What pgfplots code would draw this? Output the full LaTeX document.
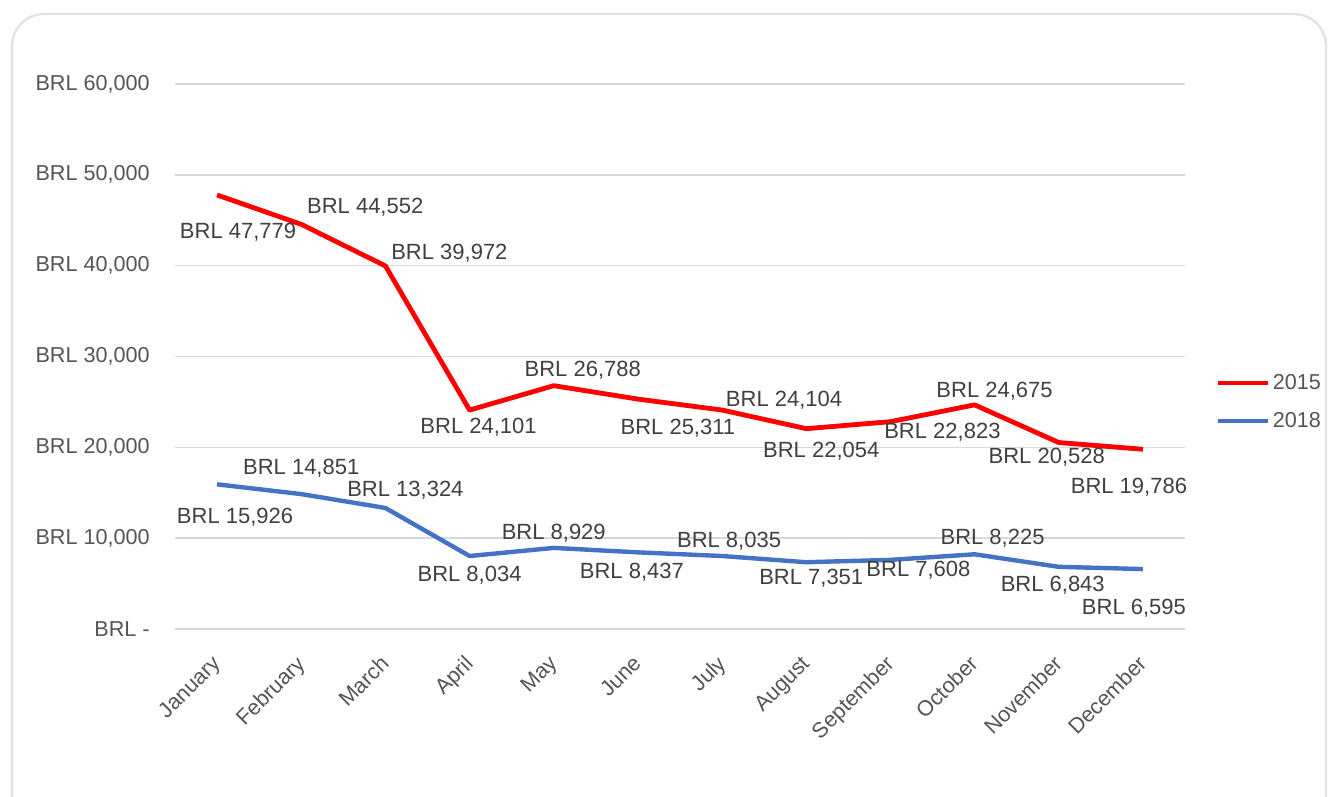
\documentclass[border=0pt]{standalone}
\usepackage{fontspec}
\setmainfont{Liberation Sans}
\usepackage{pgfplots}
\usepackage{pgfplotstable}
\pgfplotsset{compat=1.18}
\definecolor{cred}{HTML}{FF0000}
\definecolor{cblue}{HTML}{4472C4}
\definecolor{ctick}{HTML}{555555}
\definecolor{clab}{HTML}{404040}
\definecolor{cgrid}{HTML}{D9D9D9}
\definecolor{cframe}{HTML}{E3E3E3}

\pgfplotstableread{
x y dx ys
0 47779 21 -37
1 44552 64 17
2 39972 64 13
3 24101 9 -17
4 26788 29 15
5 25311 40 -29
6 24104 62 10
7 22054 15 -23
8 22823 52 -11
9 24675 20 14
10 20528 -12 -15
11 19786 -14 -38
}\dataA
\pgfplotstableread{
x y dx ys
0 15926 18 -33
1 14851 0 26
2 13324 20 18
3 8034 0 -19
4 8929 0 15
5 8437 -6 -20
6 8035 7 15
7 7351 5 -16
8 7608 28 -10
9 8225 18 16
10 6843 -6 -18
11 6595 -9 -39
}\dataB

\begin{document}
\begin{tikzpicture}[x=0.5pt,y=0.5pt]
\useasboundingbox (0,0) rectangle (1328,797);
\fill[white] (0,0) rectangle (1328,797);
\draw[cframe, line width=1.2pt, rounded corners=16pt] (12,-30) -- (12,783) -- (1326,783) -- (1326,-30);
\begin{axis}[
  at={(87.5pt,84pt)}, anchor=south west,
  scale only axis, width=505pt, height=272.5pt,
  xmin=-0.5, xmax=11.5, ymin=0, ymax=60000,
  scaled y ticks=false,
  axis line style={draw=none},
  major tick length=0pt,
  xtick={0,...,11},
  xticklabels={January,February,March,April,May,June,July,August,September,October,November,December},
  ytick={0,10000,20000,30000,40000,50000,60000},
  yticklabels={{BRL -\hspace{5pt}},{BRL 10,000},{BRL 20,000},{BRL 30,000},{BRL 40,000},{BRL 50,000},{BRL 60,000}},
  ymajorgrids, major grid style={cgrid, line width=0.7pt},
  ticklabel style={font=\fontsize{10.8}{12}\selectfont, text=ctick},
  yticklabel style={inner sep=0pt, xshift=-12.5pt},
  xticklabel style={rotate=45, anchor=north east, inner sep=0pt, yshift=-6.5pt, xshift=-11pt},
  /pgf/number format/.cd, fixed, precision=0, 1000 sep={,}, assume math mode=true, /pgfplots/.cd,
  legend style={at={(1.0297,0.4165)}, anchor=west, draw=none, fill=none, inner sep=0pt,
    font=\fontsize{10.8}{12}\selectfont, text=ctick, row sep=7pt,
    nodes={inner sep=1.5pt}},
  legend cell align=left,
  legend image code/.code={\draw[#1, line width=2.2pt] (0pt,0pt) -- (25pt,0pt);},
  nodes near coords={BRL \pgfmathprintnumber{\pgfplotspointmeta}},
  visualization depends on={\thisrow{dx} \as \dx},
  visualization depends on={\thisrow{ys} \as \ys},
  every node near coord/.append style={anchor=center, xshift={\dx*0.5pt}, yshift={\ys*0.5pt},
    font=\fontsize{11}{12}\selectfont, text=clab, inner sep=0pt},
  point meta=explicit,
]
\addplot[cred, line width=2.4pt, line join=round, mark=none] table[x=x, y=y, meta=y] {\dataA};
\addlegendentry{2015}
\addplot[cblue, line width=2.2pt, line join=round, mark=none] table[x=x, y=y, meta=y] {\dataB};
\addlegendentry{2018}
\end{axis}
\end{tikzpicture}
\end{document}
